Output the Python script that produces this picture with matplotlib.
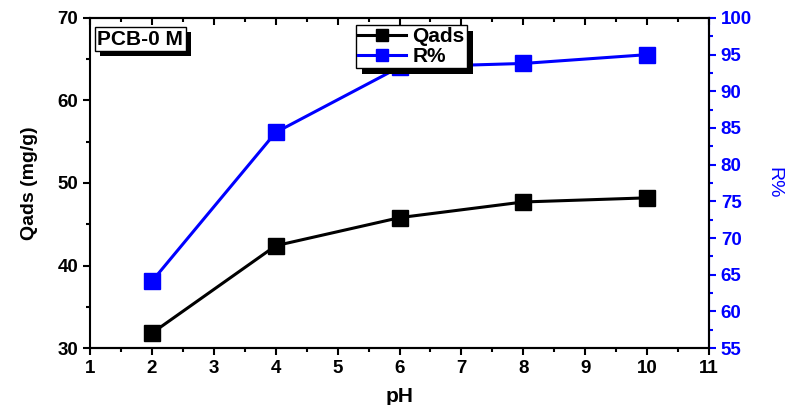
import matplotlib
matplotlib.use("Agg")
import matplotlib.pyplot as plt
from matplotlib.ticker import MultipleLocator
from matplotlib.patches import Rectangle

plt.rcParams["font.family"] = ["Liberation Sans", "DejaVu Sans"]

ph = [2, 4, 6, 8, 10]
qads = [31.8, 42.4, 45.8, 47.7, 48.2]
r_pct = [64.1, 84.4, 93.3, 93.8, 95.0]

x_ticks = list(range(1, 12))
left_ticks = [30, 40, 50, 60, 70]
right_ticks = [55, 60, 65, 70, 75, 80, 85, 90, 95, 100]

fig = plt.figure(figsize=(7.87, 4.05), dpi=100)
ax = fig.add_axes([0.1144, 0.1407, 0.7865, 0.8149])
ax2 = ax.twinx()

l1, = ax.plot(ph, qads, color="black", marker="s", markersize=11, lw=2.2, label="Qads")
l2, = ax2.plot(ph, r_pct, color="blue", marker="s", markersize=11, lw=2.2, label="R%")

ax.set_xlim(1, 11)
ax.set_ylim(30, 70)
ax2.set_ylim(55, 100)
ax.set_xticks(x_ticks)
ax.set_yticks(left_ticks)
ax2.set_yticks(right_ticks)
ax.xaxis.set_minor_locator(MultipleLocator(0.5))
ax.yaxis.set_minor_locator(MultipleLocator(5))
ax2.yaxis.set_minor_locator(MultipleLocator(2.5))

for a in (ax, ax2):
    for s in a.spines.values():
        s.set_linewidth(1.5)
ax2.spines["right"].set_color("blue")
ax2.spines["left"].set_visible(False)

ax.tick_params(axis="x", which="both", direction="out", width=1.5)
ax.tick_params(axis="x", which="major", length=5, labelsize=13.5)
ax.tick_params(axis="x", which="minor", length=3)
ax.tick_params(axis="y", which="major", direction="out", length=5, width=1.5, labelsize=13.5)
ax.tick_params(axis="y", which="minor", direction="out", length=3, width=1.5)
ax2.tick_params(axis="y", which="major", direction="out", length=5, width=1.5,
                colors="blue", labelsize=13.5)
ax2.tick_params(axis="y", which="minor", direction="out", length=3, width=1.5, colors="blue")

# top ticks point inward
topax = ax.twiny()
topax.set_xlim(ax.get_xlim())
topax.set_xticks(x_ticks)
topax.xaxis.set_minor_locator(MultipleLocator(0.5))
topax.tick_params(axis="x", which="both", direction="in", labeltop=False, width=1.5)
topax.tick_params(axis="x", which="major", length=5)
topax.tick_params(axis="x", which="minor", length=3)
for s in topax.spines.values():
    s.set_visible(False)

for lab in ax.get_xticklabels() + ax.get_yticklabels() + ax2.get_yticklabels():
    lab.set_fontweight("bold")

ax.set_xlabel("pH", fontsize=15, fontweight="bold", labelpad=7)
ax.set_ylabel("Qads (mg/g)", fontsize=14, fontweight="bold", labelpad=14)
ax2.set_ylabel("R%", fontsize=14, color="blue", rotation=-90, labelpad=22)

leg = ax.legend([l1, l2], ["Qads", "R%"], loc="upper left", bbox_to_anchor=(0.43, 0.979),
                fancybox=False, shadow=False,
                edgecolor="black", prop={"weight": "bold", "size": 15},
                handlelength=2.3, markerscale=0.75,
                borderpad=0.1, labelspacing=0.05, handletextpad=0.3, framealpha=1,
                borderaxespad=0)
leg.get_frame().set_linewidth(1.0)
leg.set_zorder(10)
ax.set_zorder(ax2.get_zorder() + 1)
ax.patch.set_visible(False)

# sample label
label = ax.text(0.012, 0.936, "PCB-0 M", transform=ax.transAxes, fontsize=15,
                fontweight="bold", va="center", ha="left", color="black",
                bbox=dict(boxstyle="square,pad=0.12", fc="white", ec="black", lw=1.0),
                zorder=6)

# drop shadows behind the label box and the legend
fig.canvas.draw()
bb = label.get_bbox_patch().get_window_extent()
ax.add_patch(Rectangle((bb.x0 + 5, bb.y0 - 5), bb.width, bb.height, transform=None,
                       fc="black", ec="none", zorder=5))
lb = leg.get_frame().get_window_extent()
ax.add_patch(Rectangle((lb.x0 + 6, lb.y0 - 6), lb.width, lb.height, transform=None,
                       fc="black", ec="none", zorder=9))

fig.savefig("out.png", dpi=100)
